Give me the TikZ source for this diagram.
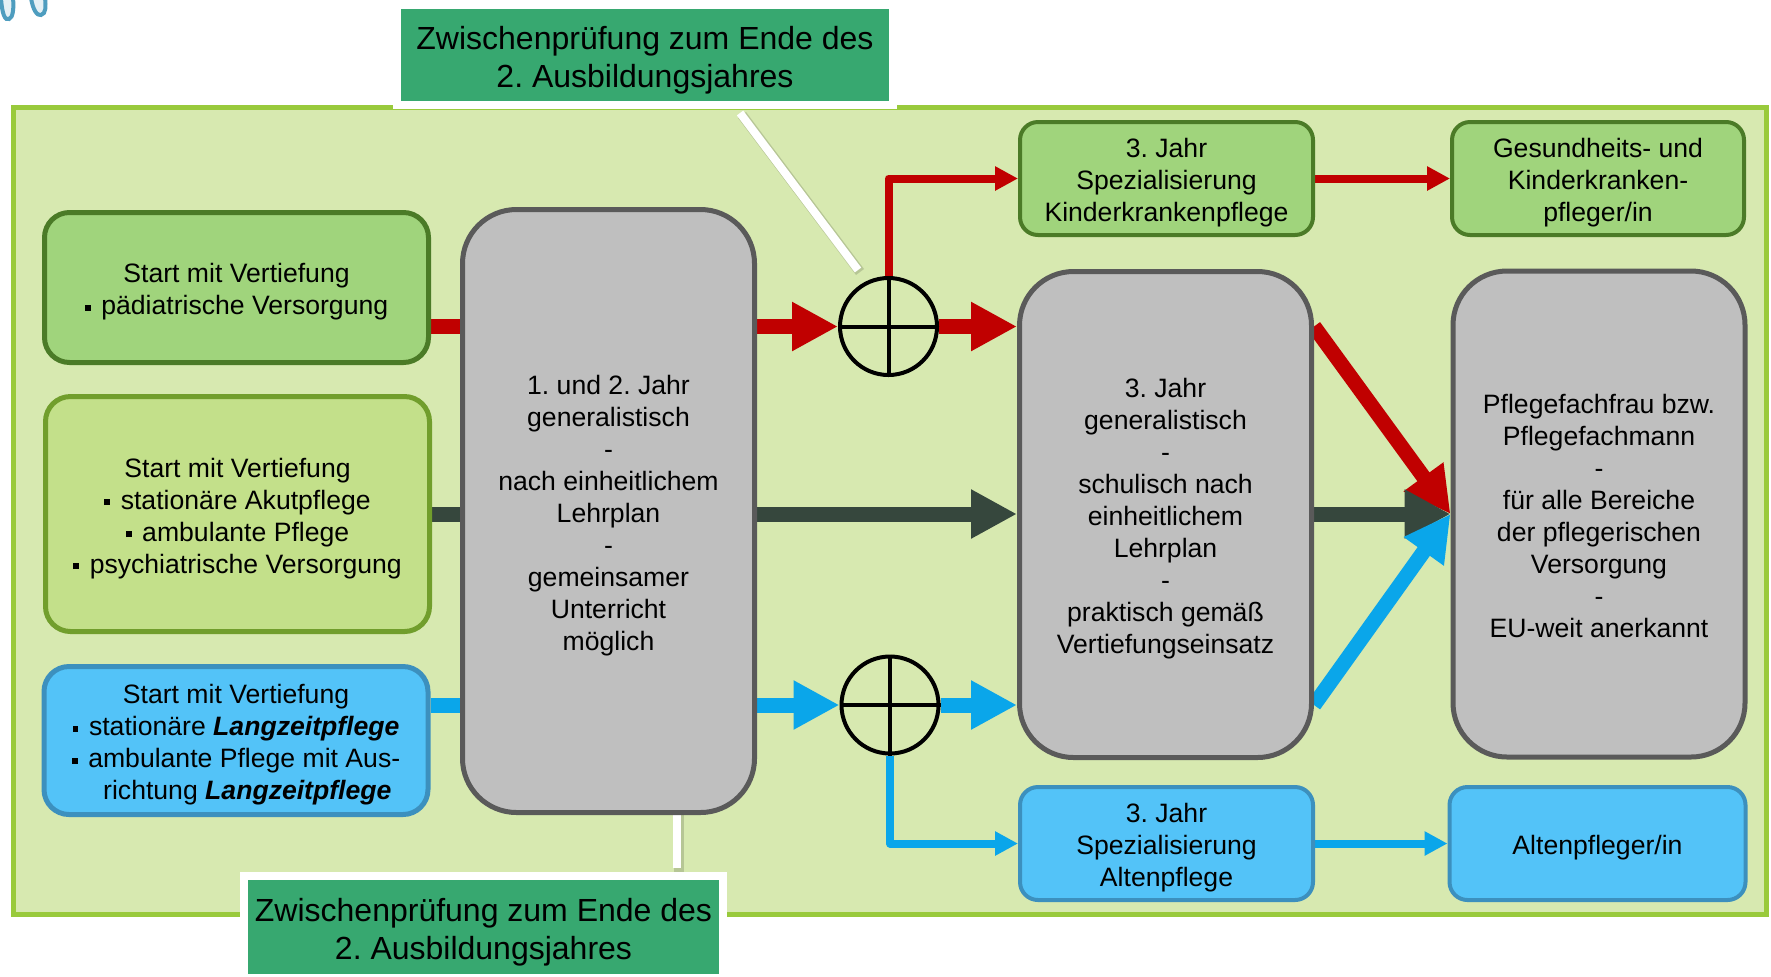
\documentclass[tikz,border=0pt]{standalone}
\usepackage{fontspec}
\setmainfont{Liberation Sans}
\usetikzlibrary{arrows.meta,shadows,calc}
\definecolor{bgfill}{HTML}{D7E9B0}
\definecolor{bgline}{HTML}{99CA3C}
\definecolor{gfill}{HTML}{A0D47C}
\definecolor{gline}{HTML}{4B7B27}
\definecolor{lgfill}{HTML}{C3E08A}
\definecolor{lgline}{HTML}{719E2C}
\definecolor{bfill}{HTML}{53C3F8}
\definecolor{bline}{HTML}{3C90BE}
\definecolor{grfill}{HTML}{BFBFBF}
\definecolor{grline}{HTML}{5A5A5A}
\definecolor{callfill}{HTML}{37A870}
\definecolor{ared}{HTML}{C00000}
\definecolor{ablue}{HTML}{0AA6EA}
\definecolor{adark}{HTML}{36473D}
\definecolor{squig}{HTML}{4E9DBF}
\pgfdeclarelayer{bglayer}
\pgfdeclarelayer{conn}
\pgfsetlayers{bglayer,conn,main}
\frenchspacing
\newcommand\bul{\raisebox{0.3ex}{\rule{0.22em}{0.22em}}\hspace{0.4em}}
\newcommand\Ts{\rule{0pt}{1.06em}}
\newcommand\Bs{\rule[-0.212em]{0pt}{0.212em}}
\tikzset{
  txt/.style={align=center, inner sep=0pt},
  startbox/.style={txt, rounded corners=12.5pt, line width=2.5pt, minimum width=192pt},
  grbox/.style={txt, rounded corners=27pt, fill=grfill, draw=grline, line width=2.5pt, minimum width=146pt, minimum height=243pt},
  smbox/.style={txt, rounded corners=9pt, line width=2pt, minimum width=146.5pt, minimum height=56.5pt},
  greenbox/.style={fill=gfill, draw=gline},
  bluebox/.style={fill=bfill, draw=bline},
  callout/.style={txt, fill=callfill, draw=white, line width=4pt,
    font=\fontsize{16}{19.2}\selectfont,
    drop shadow={opacity=0.3, shadow xshift=1.5pt, shadow yshift=-1.5pt}},
  plus/.style={circle, draw=black, line width=2pt, minimum size=48.5pt, inner sep=0pt},
  thick arrow/.style={line width=7.5pt, -{Triangle[width=23pt,length=23pt]}},
  thick shaft/.style={line width=7.5pt},
  thin arrow/.style={line width=4pt, line join=round, -{Triangle[width=11.5pt,length=11.5pt]}},
  pointer/.style={draw=white, line width=4pt},
  pointershadow/.style={draw=black, opacity=0.15, line width=5pt},
}
\begin{document}
\begin{tikzpicture}[x=0.5pt, y=-0.5pt, font=\fontsize{13.3}{16}\selectfont]
\useasboundingbox (0,0) rectangle (1771,976);

% background panel
\begin{pgfonlayer}{bglayer}
\fill[white] (0,0) rectangle (1771,976);
\draw[fill=bgfill, draw=bgline, line width=2.5pt] (13.5,107.5) rectangle (1766.5,914.5);
\end{pgfonlayer}

% decorative squiggle
\begin{scope}
\clip (0,0) rectangle (60,30);
\draw[squig, line width=2pt, fill=squig!15] (1,-2) .. controls (2,14) and (5,21) .. (9,19) .. controls (13,18) and (14,8) .. (13,-2);
\draw[squig, line width=2pt, fill=squig!15] (31,-2) .. controls (33,10) and (37,16) .. (41,15) .. controls (46,14) and (46,6) .. (45,-2);
\end{scope}

% start boxes
\node[startbox, greenbox, minimum height=75pt] (s1) at (236.5,287.5)
  {\Ts Start mit Vertiefung\\\bul pädiatrische Versorgung\Bs};
\node[startbox, fill=lgfill, draw=lgline, minimum height=117.5pt] (s2) at (237.5,514)
  {\Ts Start mit Vertiefung\\\bul stationäre Akutpflege\\\bul ambulante Pflege\\\bul psychiatrische Versorgung\Bs};
\node[startbox, bluebox, minimum height=74pt] (s3) at (236,740.5)
  {\Ts Start mit Vertiefung\\\bul stationäre \textbf{\textit{Langzeitpflege}}\\\bul ambulante Pflege mit Aus-\\\hspace*{0.85em}richtung \textbf{\textit{Langzeitpflege}}\Bs};

% gray boxes
\node[grbox, minimum height=301.5pt] (g1) at (608.5,511)
  {\Ts 1. und 2. Jahr\\generalistisch\\-\\nach einheitlichem\\Lehrplan\\-\\gemeinsamer\\Unterricht\\möglich\Bs};
\node[grbox] (g2) at (1165.5,514.5)
  {\Ts 3. Jahr\\generalistisch\\-\\schulisch nach\\einheitlichem\\Lehrplan\\-\\praktisch gemäß\\Vertiefungseinsatz\Bs};
\node[grbox] (g3) at (1599,514)
  {\Ts Pflegefachfrau bzw.\\Pflegefachmann\\-\\für alle Bereiche\\der pflegerischen\\Versorgung\\-\\EU-weit anerkannt\Bs};

% small boxes
\node[smbox, greenbox] (k1) at (1166.5,178.5) {\Ts 3. Jahr\\Spezialisierung\\Kinderkrankenpflege\Bs};
\node[smbox, greenbox, minimum width=146pt] (k2) at (1598,178.5) {\Ts Gesundheits- und\\Kinderkranken-\\pfleger/in\Bs};
\node[smbox, bluebox] (a1) at (1166.5,843.5) {\Ts 3. Jahr\\Spezialisierung\\Altenpflege\Bs};
\node[smbox, bluebox, minimum width=148pt] (a2) at (1597.5,843.5) {\Ts Altenpfleger/in\Bs};

% circles
\node[plus] (c1) at (888.5,326.5) {};
\draw[line width=2pt] (c1.north) -- (c1.south) (c1.west) -- (c1.east);
\node[plus] (c2) at (890,705) {};
\draw[line width=2pt] (c2.north) -- (c2.south) (c2.west) -- (c2.east);

% callouts
\node[callout, minimum width=248pt, minimum height=50pt] (ct) at (645,55)
  {\Ts Zwischenprüfung zum Ende des\\2. Ausbildungsjahres\Bs};
\node[callout, minimum width=239.5pt, minimum height=51pt] (cb) at (483.5,927)
  {\Ts Zwischenprüfung zum Ende des\\2. Ausbildungsjahres\Bs};
\coordinate (pt) at (858,270);

\begin{pgfonlayer}{conn}
% callout pointers
\draw[pointershadow] ([xshift=48.5pt,yshift=-3pt]ct.south) -- ([xshift=1pt,yshift=-1pt]pt);
\draw[pointer] ([xshift=47.5pt,yshift=-2pt]ct.south) -- (pt);
\draw[pointershadow] ([xshift=97.5pt]cb.north) -- ([xshift=97.5pt]cb.north |- g1.south);
\draw[pointer] ([xshift=96.75pt,yshift=2pt]cb.north) -- ([xshift=96.75pt]cb.north |- g1.south);

% red path
\draw[ared, thick shaft] (s1.east |- c1) -- (g1.west |- c1);
\draw[ared, thick arrow] (g1.east |- c1) -- (c1.west);
\draw[ared, thick arrow] (c1.east) -- (g2.west |- c1);
\draw[ared, thin arrow] (c1.north) |- (k1.west);
\draw[ared, thin arrow] (k1.east) -- (k2.west);

% blue path
\draw[ablue, thick shaft] (s3.east |- c2) -- (g1.west |- c2);
\draw[ablue, thick arrow] (g1.east |- c2) -- (c2.west);
\draw[ablue, thick arrow] (c2.east) -- (g2.west |- c2);
\draw[ablue, thin arrow] (c2.south) |- (a1.west);
\draw[ablue, thin arrow] (a1.east) -- (a2.west);

% dark path
\draw[adark, thick shaft] (s2.east) -- (g1.west |- s2.east);
\draw[adark, thick arrow] (g1.east |- s2.east) -- (g2.west |- s2.east);

% converging arrows
\draw[ared, thick arrow] (g2.east |- c1) -- (g3.west);
\draw[adark, thick arrow] (g2.east |- g3.west) -- (g3.west);
\draw[ablue, thick arrow] (g2.east |- c2) -- (g3.west);
\end{pgfonlayer}
\end{tikzpicture}
\end{document}
